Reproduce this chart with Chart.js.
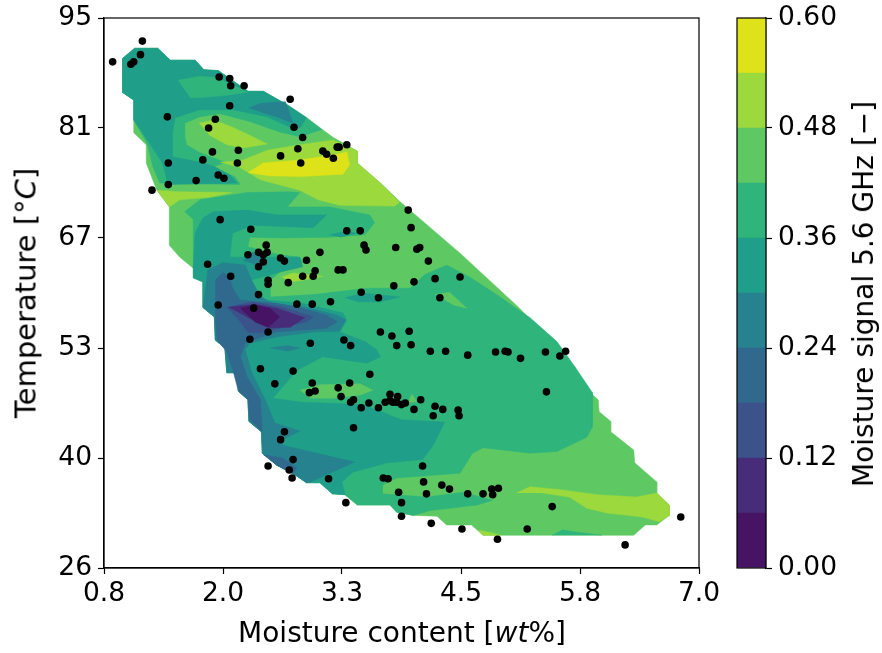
<!DOCTYPE html>
<html>
<head>
<meta charset="utf-8">
<title>Moisture signal contour</title>
<script src="https://cdn.jsdelivr.net/npm/chart.js@4"></script>
<style>
  html, body { margin: 0; padding: 0; background: #fff; }
  #wrap { position: relative; width: 882px; height: 653px; overflow: hidden; font-family: "DejaVu Sans", sans-serif; color: #000; }
  canvas { position: absolute; left: 0; top: 0; }
  .label { position: absolute; font-size: 28px; white-space: nowrap; line-height: 1; }
  #x-label { left: 402px; top: 633px; transform: translate(-50%, -50%); }
  #y-label { left: 26px; top: 293px; font-size: 29px; transform: translate(-50%, -50%) rotate(-90deg); }
  #c-label { left: 864px; top: 294px; transform: translate(-50%, -50%) rotate(-90deg); }
</style>
</head>
<body>
<div id="wrap">
  <canvas id="main" width="882" height="653"></canvas>
  <canvas id="bar" width="882" height="653"></canvas>
  <div class="label" id="x-label">Moisture content [<i>wt</i>%]</div>
  <div class="label" id="y-label">Temperature [°<i>C</i>]</div>
  <div class="label" id="c-label">Moisture signal 5.6 GHz [−]</div>
</div>
<script>
// Axis ticks
const xTickValues = [0.8, 2.04, 3.28, 4.52, 5.76, 7.0];
const xTickLabels = ['0.8', '2.0', '3.3', '4.5', '5.8', '7.0'];
const yTickValues = [26, 39.8, 53.6, 67.4, 81.2, 95];
const yTickLabels = ['26', '40', '53', '67', '81', '95'];
const levelTicks = [0, 0.12, 0.24, 0.36, 0.48, 0.6];
const levelTickLabels = ['0.00', '0.12', '0.24', '0.36', '0.48', '0.60'];

// One colour per contour band, 0.06 wide
const levelWidth = [0.06, 0.06, 0.06, 0.06, 0.06, 0.06, 0.06, 0.06, 0.06, 0.06];
const bandColors = ['#471365', '#472c7a', '#3b528b', '#31688e', '#26828e', '#1f9e89', '#2fb47c', '#5ec962', '#9bd93c', '#dde318'];

// Measured samples: moisture, temperature
const samples = [
  [1.20,92.1],[0.89,89.5],[1.18,90.4],[1.11,89.5],[1.08,89.2],[2.00,87.6],[2.11,87.4],[2.12,86.5],[2.26,86.5],[2.74,84.8],
  [2.11,84.0],[1.46,82.6],[1.96,82.3],[1.89,81.2],[2.78,81.3],[2.87,80.0],[2.82,78.6],[2.20,78.4],[1.93,78.2],[3.08,78.3],
  [3.12,77.9],[3.19,77.4],[3.23,78.8],[3.25,78.8],[3.33,79.1],[2.64,77.7],[1.83,77.2],[1.47,76.8],[2.19,76.8],[2.85,76.8],
  [1.99,75.3],[2.05,74.9],[1.76,74.6],[1.47,74.1],[1.30,73.4],[3.97,70.9],[2.01,69.7],[2.33,68.5],[3.33,68.3],[3.47,68.3],
  [4.00,68.7],[3.51,66.5],[3.53,65.9],[3.84,66.2],[4.06,66.0],[4.09,66.2],[2.49,66.5],[2.41,65.6],[2.50,65.6],[2.30,65.3],
  [2.46,65.3],[2.64,64.9],[2.68,64.5],[2.91,64.6],[3.05,65.6],[4.18,64.5],[2.46,64.4],[2.41,63.8],[1.88,64.1],[2.12,62.6],
  [2.51,62.1],[2.51,61.6],[2.87,62.6],[3.00,63.3],[2.98,62.6],[3.24,63.4],[3.29,63.4],[2.72,61.8],[4.03,61.9],[4.25,62.3],
  [4.51,62.5],[3.82,61.4],[3.48,60.6],[3.66,59.9],[4.30,59.9],[2.41,60.3],[1.99,59.0],[2.36,58.6],[2.81,59.1],[2.97,59.1],
  [3.16,59.4],[2.51,55.6],[2.32,54.7],[2.95,54.2],[3.30,54.6],[3.37,53.9],[3.68,55.6],[3.80,55.1],[3.98,55.7],[3.85,53.9],
  [4.00,54.0],[4.20,53.2],[4.36,53.2],[2.43,51.0],[2.77,50.7],[3.57,50.3],[2.58,49.1],[2.97,49.2],[3.36,49.2],[3.24,48.6],
  [2.94,48.0],[3.00,48.2],[3.27,47.5],[3.37,46.8],[3.40,47.1],[3.48,46.1],[3.56,46.7],[3.66,46.1],[3.73,46.8],[3.78,47.8],
  [3.86,47.5],[3.78,47.0],[3.81,46.8],[3.85,46.8],[3.90,46.5],[3.94,46.7],[4.03,45.9],[4.10,47.1],[4.25,46.3],[4.33,45.9],
  [4.23,45.1],[4.49,45.8],[4.50,45.1],[3.40,43.6],[2.68,43.1],[2.64,42.1],[2.77,39.6],[2.51,38.8],[2.73,38.3],[2.76,37.3],
  [3.14,37.2],[4.12,38.8],[3.71,37.3],[3.76,37.2],[4.13,36.8],[4.32,36.4],[4.40,35.9],[4.16,35.3],[3.87,35.5],[4.59,35.3],
  [4.75,35.3],[4.84,35.9],[4.85,35.2],[4.91,36.0],[3.90,34.2],[3.32,34.2],[3.90,32.5],[4.21,31.6],[4.53,30.9],[4.90,29.6],
  [4.59,52.7],[4.88,53.1],[4.98,53.2],[5.01,53.1],[5.14,52.3],[5.40,53.1],[5.55,52.6],[5.61,53.2],[5.41,48.1],[5.47,33.7],
  [5.21,30.9],[6.23,28.9],[6.81,32.4]
];

// Edge of the contoured region, piece by piece
const topEdge = [[0.99,89.9],[1.12,91.2],[1.36,91.2],[1.49,89.7],[1.75,89.7],[1.84,88.5],[1.99,88.4],[2.30,85.8],[2.46,85.8],[2.71,84.1],[2.91,82.5]];
const rightEdge = [[3.19,80.0],[3.44,78.3],[3.44,76.8],[3.68,74.3],[3.88,72.0],[4.51,65.5],[5.13,58.6],[5.71,51.2],[5.72,49.6],[5.95,47.1],[5.96,45.6],[6.08,44.4],[6.08,43.1],[6.32,40.8],[6.33,39.2],[6.56,36.8],[6.56,35.4],[6.69,33.9],[6.69,32.6],[6.56,31.4],[6.44,31.4],[6.32,30.1]];
const bottomEdge = [[4.75,30.1],[4.63,31.4],[4.37,31.4],[4.27,32.5],[4.02,32.6]];
const lowEdgeA = [[3.85,33.0],[3.78,33.9],[3.44,33.9],[3.31,35.2]];
const lowEdgeB = [[3.18,35.3],[3.05,36.7],[2.91,36.7]];
const lowEdgeC = [[2.79,37.7],[2.60,38.9],[2.45,40.4],[2.44,43.1],[2.31,44.4],[2.30,47.1],[2.20,48.2],[2.19,50.5],[2.08,50.5],[2.06,53.6],[1.96,54.6],[1.95,57.5],[1.83,58.7]];
const leftEdge = [[1.83,61.9],[1.73,62.4],[1.73,63.6],[1.59,65.0],[1.48,66.5],[1.48,71.3],[1.35,73.4],[1.24,76.8],[1.24,79.1],[1.11,80.6],[1.11,84.7],[0.99,85.7]];

const wholeRegion = [...topEdge, ...rightEdge, ...bottomEdge, ...lowEdgeA, ...lowEdgeB, ...lowEdgeC, ...leftEdge];

// Contour bands as closed shapes, painted in the order of contourLayers
const upperGreen = [...topEdge,[3.07,81.0],[2.84,80.1],[2.63,80.7],[2.32,82.0],[2.01,83.0],[1.80,82.6],[1.64,81.8],[1.64,80.3],[1.66,79.1],[1.80,78.1],[2.06,76.9],[1.94,76.3],[2.16,75.1],[2.22,74.1],[1.38,74.3],[1.31,76.3],[1.26,78.8],[1.23,79.7],[1.11,82.2],[1.11,84.7],[0.99,85.7]];
const upperTeal = [...topEdge,[2.84,81.2],[2.74,81.3],[2.50,82.6],[2.14,83.5],[1.80,83.5],[1.54,82.5],[1.51,80.3],[1.51,77.6],[1.80,76.9],[1.96,76.3],[2.11,75.3],[2.19,74.3],[1.47,74.1],[1.41,76.8],[1.23,80.1],[1.11,82.2],[1.11,84.7],[0.99,85.7]];
const topPatchGreen = [[1.57,87.2],[1.80,87.7],[1.99,87.5],[2.13,86.6],[2.30,85.7],[2.08,85.3],[1.80,85.0],[1.70,85.0]];
const topPatchBlue = [[2.31,83.7],[2.43,84.3],[2.69,84.5],[2.77,81.8],[2.60,82.6],[2.43,83.2]];
const ringLime = [[1.79,81.8],[1.94,82.2],[2.14,81.3],[2.35,80.1],[2.50,79.2],[2.25,78.7],[2.08,79.1],[1.90,80.3]];
const hotLime = [[2.01,76.9],[2.25,77.2],[2.50,78.4],[2.84,79.1],[3.19,79.7],[3.44,78.3],[3.44,76.8],[3.68,74.3],[3.88,71.9],[3.83,71.4],[3.26,71.5],[3.03,72.2],[2.84,73.4],[2.43,74.7],[2.22,76.2]];
const hotYellow = [[2.30,75.6],[2.46,76.8],[2.84,77.2],[3.19,77.8],[3.33,78.2],[3.36,76.6],[3.29,75.4],[2.84,75.1],[2.50,75.2]];
const leftLime = [[1.35,73.4],[1.59,73.2],[2.13,73.1],[1.90,72.5],[1.59,72.2],[1.48,71.3]];
const middleGreen = [[1.64,70.7],[1.80,72.2],[2.29,73.1],[2.71,73.2],[2.84,73.1],[2.71,71.3],[3.15,71.3],[3.57,70.3],[3.62,69.3],[3.52,67.8],[3.15,67.5],[2.65,67.4],[2.32,67.5],[2.30,66.3],[2.43,65.9],[2.63,65.3],[2.84,65.0],[2.87,64.3],[2.63,63.1],[2.53,62.1],[2.53,60.0],[2.98,60.3],[3.54,61.1],[3.99,61.1],[4.14,62.8],[4.37,64.0],[4.61,62.5],[4.89,60.3],[5.24,57.4],[5.52,54.4],[5.71,51.2],[5.89,48.0],[5.89,43.7],[5.83,42.4],[5.52,40.6],[5.24,40.4],[4.75,41.1],[4.64,40.4],[4.51,37.9],[3.85,37.3],[3.70,36.4],[3.70,35.3],[4.16,34.9],[4.54,35.5],[4.85,34.5],[4.69,33.9],[4.20,33.2],[4.02,32.6],...lowEdgeA,...lowEdgeB,...lowEdgeC,[1.83,61.9],[1.73,62.4],[1.73,63.6],[1.73,69.7]];
const middleTeal = [[1.73,63.6],[1.75,68.0],[1.83,69.9],[1.94,70.7],[2.29,70.9],[2.60,70.3],[3.12,70.3],[2.98,68.7],[2.35,69.0],[2.14,68.0],[2.11,65.0],[2.84,65.0],[2.87,63.8],[2.63,63.1],[2.32,62.1],[2.39,60.5],[2.50,59.6],[2.87,59.2],[3.29,58.0],[3.33,57.1],[3.26,55.6],[3.52,54.4],[3.64,53.4],[3.68,52.5],[3.54,51.7],[3.08,52.5],[2.81,50.8],[2.56,47.3],[2.87,46.8],[3.50,46.5],[3.90,44.6],[4.35,44.3],[4.23,41.4],[4.12,39.6],[3.75,39.2],[3.39,38.0],[3.28,36.8],[3.31,35.2],...lowEdgeB,...lowEdgeC,[1.83,61.9],[1.73,62.4]];
const islandGreen = [[2.84,48.3],[3.05,49.0],[3.47,49.1],[3.60,48.3],[3.47,47.7],[3.19,47.3],[2.95,47.3]];
const islandGreenSmall = [[3.97,46.8],[4.01,47.8],[4.06,46.8]];
const islandGreenRight = [[4.25,60.3],[4.40,60.6],[4.58,58.6],[4.44,59.0]];
const lowerLime = [[5.10,35.4],[5.24,36.2],[5.58,35.8],[5.94,35.2],[6.35,34.9],[6.56,35.4],[6.69,33.9],[6.69,32.6],[6.59,31.8],[6.41,32.4],[6.04,32.9],[5.83,33.5],[5.65,34.9],[5.37,35.4]];
const bottomLime = [[4.70,30.8],[4.75,30.1],[4.93,30.1],[4.82,30.5]];
const bottomGreen = [[5.47,30.1],[5.58,30.8],[5.73,30.5],[5.99,30.1]];
const lensTeal = [[3.15,67.8],[3.31,68.2],[3.44,68.0],[3.26,67.5]];
const lensLime = [[2.65,62.5],[2.77,63.0],[3.08,62.6],[2.87,62.1],[2.74,61.9]];
const lensTealMid = [[3.31,59.9],[3.50,60.5],[3.88,60.0],[3.68,59.4],[3.44,59.4]];
const patchSlate = [[2.25,64.5],[2.35,65.6],[2.46,65.3],[2.41,64.0],[2.30,64.4]];
const coldSlate = [[1.88,63.4],[2.04,64.3],[2.27,64.0],[2.34,62.1],[2.43,60.0],[2.56,59.2],[2.91,58.7],[3.23,57.7],[3.32,57.1],[3.25,55.7],[2.98,55.6],[2.60,55.0],[2.32,54.2],[2.27,53.4],[2.34,50.5],[2.48,47.1],[2.58,44.2],[2.84,43.2],[2.66,42.1],[2.66,41.4],[3.41,39.3],[2.95,36.8],[2.91,36.7],...lowEdgeC];
const lensSlate = [[2.53,53.6],[2.71,53.9],[2.84,53.6],[2.71,53.2]];
const coldBlue = [[1.96,62.1],[2.04,63.1],[2.11,62.4],[2.14,61.1],[2.22,59.6],[2.60,59.2],[2.87,58.6],[3.12,57.7],[3.23,56.9],[3.12,56.1],[2.91,55.9],[2.60,55.6],[2.35,54.6],[2.27,54.2],[2.22,52.5],[2.29,50.0],[2.43,47.1],[2.45,43.1],[2.32,44.6],[2.30,47.1],[2.20,48.2],[2.15,50.5],[2.08,53.1],[1.98,54.6],[1.96,57.5]];
const wedgeBlue = [[2.46,40.2],[2.66,39.8],[2.81,38.5],[2.77,37.9],[2.60,38.9]];
const coldIndigo = [[2.08,58.7],[2.35,59.4],[2.66,58.7],[2.98,57.5],[2.91,56.9],[2.63,56.1],[2.43,55.5],[2.30,55.6],[2.22,56.9]];
const coldViolet = [[2.10,58.7],[2.37,59.1],[2.60,58.6],[2.89,57.4],[2.74,56.2],[2.53,56.1],[2.29,57.5]];
const coldPurple = [[2.22,58.6],[2.37,59.0],[2.53,58.6],[2.63,57.5],[2.51,56.2],[2.37,56.9]];

const contourLayers = [
  [wholeRegion, 7], [upperGreen, 6], [upperTeal, 5], [topPatchGreen, 6], [topPatchBlue, 4],
  [ringLime, 8], [hotLime, 8], [hotYellow, 9], [leftLime, 8], [middleGreen, 6], [middleTeal, 5],
  [islandGreen, 7], [islandGreenSmall, 7], [islandGreenRight, 7], [lowerLime, 8], [bottomLime, 8], [bottomGreen, 6],
  [lensTeal, 5], [lensLime, 8], [lensTealMid, 5], [patchSlate, 4], [coldSlate, 4], [lensSlate, 4],
  [coldBlue, 3], [wedgeBlue, 3], [coldIndigo, 2], [coldViolet, 1], [coldPurple, 0]
];

const toPoints = list => list.map(([x, y]) => ({ x, y }));
const fontSpec = { family: '"DejaVu Sans", sans-serif', size: 26.5 };

// Top and right spines, chart.js only draws the axis sides
const frame = {
  id: 'frame',
  afterDraw(chart) {
    const { ctx, chartArea: a } = chart;
    ctx.save();
    ctx.strokeStyle = '#000';
    ctx.lineWidth = 1.2;
    ctx.strokeRect(a.left, a.top, a.right - a.left, a.bottom - a.top);
    ctx.restore();
  }
};

function tickAxis(values, labels, side) {
  return {
    afterBuildTicks: scale => { scale.ticks = values.map(value => ({ value })); },
    grid: { display: true, drawOnChartArea: false, drawTicks: true, tickLength: 6, tickColor: '#000', tickWidth: 1.2 },
    border: { display: true, color: '#000', width: 1.2 },
    ticks: {
      color: '#000', font: fontSpec, padding: side === 'x' ? 4 : 6, autoSkip: false, maxRotation: 0, minRotation: 0,
      callback: (v, i) => labels[i]
    },
    afterFit: scale => {
      if (side === 'x') scale.height = 85;
      else if (side === 'y') scale.width = 104;
      else scale.width = 116;
      // keep the plot box where it is, labels may hang over its ends
      scale.paddingTop = scale.paddingBottom = scale.paddingLeft = scale.paddingRight = 0;
    }
  };
}

new Chart(document.getElementById('main'), {
  type: 'scatter',
  data: {
    datasets: [
      { data: toPoints(samples), backgroundColor: '#000', borderWidth: 0, pointRadius: 3.8, order: 0, clip: false },
      ...contourLayers.map(([shape, band], i) => ({
        data: toPoints(shape),
        showLine: true, fill: 'shape', tension: 0,
        backgroundColor: bandColors[band],
        borderColor: bandColors[band],
        borderWidth: 0.5, pointRadius: 0,
        order: contourLayers.length - i
      }))
    ]
  },
  options: {
    responsive: false, animation: false,
    layout: { autoPadding: false, padding: { left: 0, top: 18, right: 183, bottom: 0 } },
    plugins: { legend: { display: false }, tooltip: { enabled: false } },
    scales: {
      x: { type: 'linear', min: 0.8, max: 7, ...tickAxis(xTickValues, xTickLabels, 'x') },
      y: { type: 'linear', min: 26, max: 95, ...tickAxis(yTickValues, yTickLabels, 'y') }
    }
  },
  plugins: [frame]
});

// Colour bar
new Chart(document.getElementById('bar'), {
  type: 'bar',
  data: {
    labels: [''],
    datasets: levelWidth.map((w, i) => ({
      data: [w], backgroundColor: bandColors[i], borderWidth: 0,
      barPercentage: 1, categoryPercentage: 1
    }))
  },
  options: {
    responsive: false, animation: false,
    layout: { autoPadding: false, padding: { left: 737, top: 18, right: 0, bottom: 85 } },
    plugins: { legend: { display: false }, tooltip: { enabled: false } },
    scales: {
      x: { display: false, stacked: true },
      y: { type: 'linear', position: 'right', stacked: true, min: 0, max: 0.6, ...tickAxis(levelTicks, levelTickLabels, 'c') }
    }
  },
  plugins: [frame]
});
</script>
</body>
</html>
